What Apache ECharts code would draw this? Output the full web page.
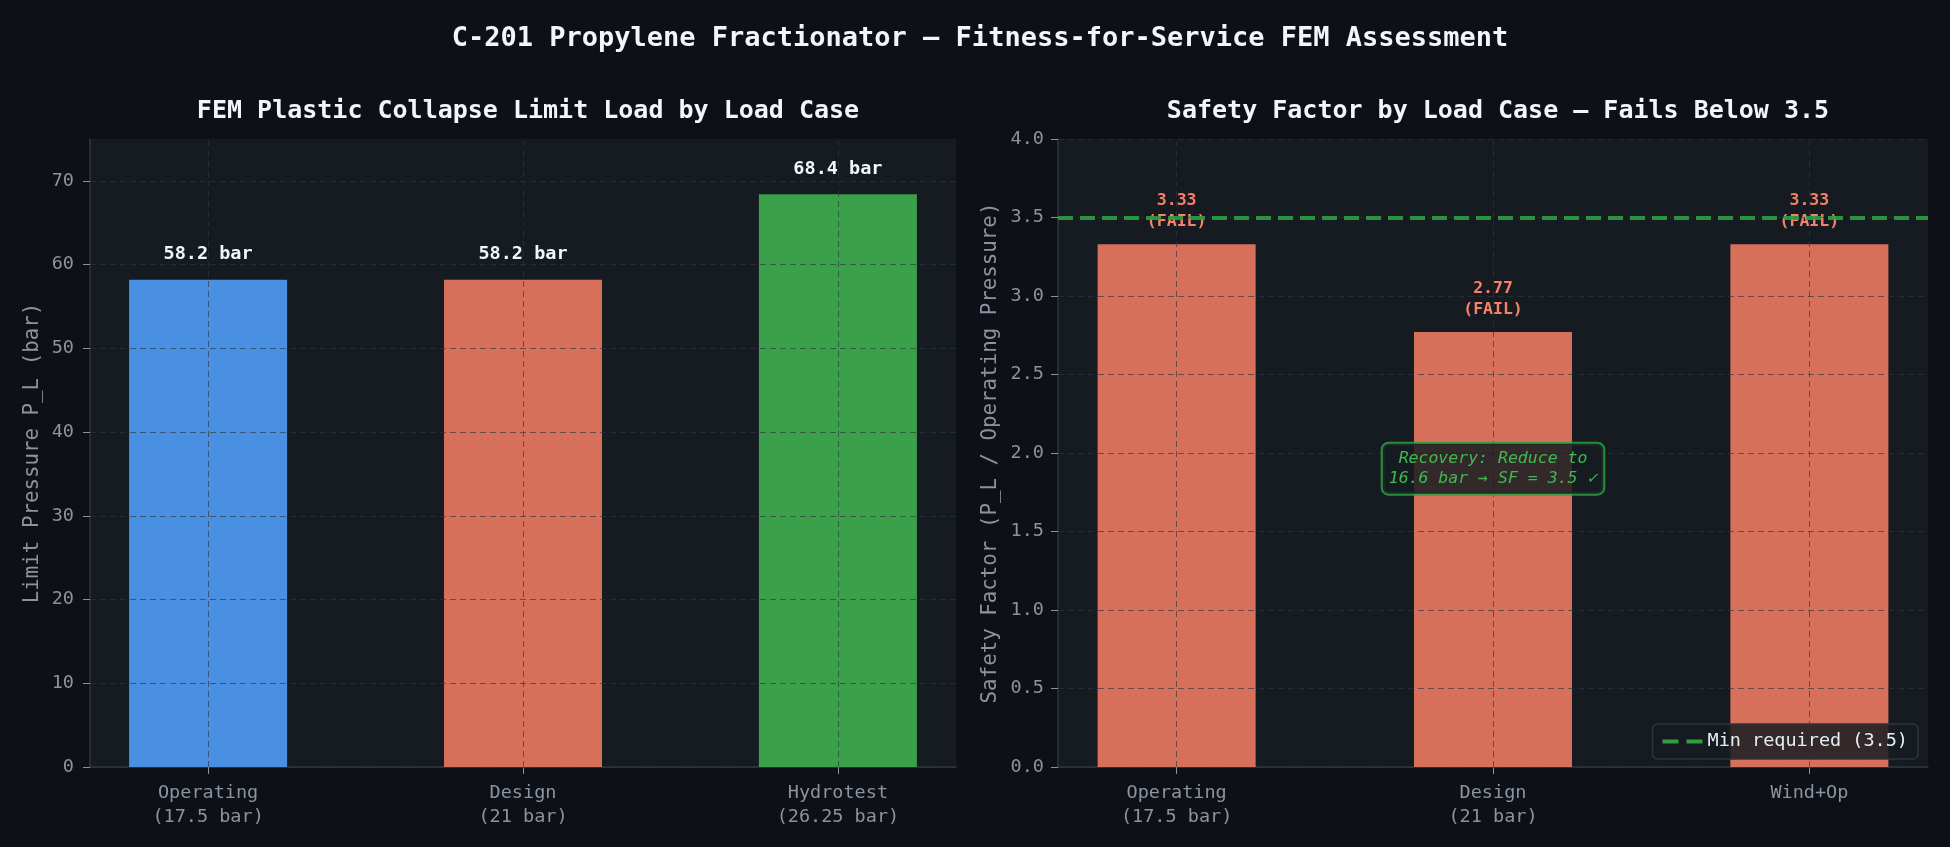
<!DOCTYPE html>
<html>
<head>
<meta charset="utf-8">
<script src="https://cdn.jsdelivr.net/npm/echarts@6/dist/echarts.min.js"></script>
<style>
  html, body { margin: 0; padding: 0; background: #0d1117; }
  #chart { width: 1950px; height: 847px; }
</style>
</head>
<body>
<div id="chart"></div>
<script>
// FFS FEM assessment - two bar panels
const limitCases = ['Operating\n(17.5 bar)', 'Design\n(21 bar)', 'Hydrotest\n(26.25 bar)'];
const sfCases = ['Operating\n(17.5 bar)', 'Design\n(21 bar)', 'Wind+Op'];
const limitLoad = [58.2, 58.2, 68.4];
const safetyFactor = [3.33, 2.77, 3.33];
const minSF = 3.5;
const limitTicks = [0, 10, 20, 30, 40, 50, 60, 70];
const sfTicks = [0, 0.5, 1.0, 1.5, 2.0, 2.5, 3.0, 3.5, 4.0];
const casePos = [0, 1, 2];
const recovery = { x: 1, y: 1.9, text: 'Recovery: Reduce to\n16.6 bar → SF = 3.5 ✓' };

const limitColors = ['#4a90e2', '#d6705a', '#3aa14a'];
const failColor = '#d6705a';
const mono = '"DejaVu Sans Mono", monospace';
const gridLine = { color: 'rgba(48,54,61,0.65)', type: [6, 4], width: 1 };

const chart = echarts.init(document.getElementById('chart'));

function xAxisFor(idx, labels) {
  return {
    type: 'value', gridIndex: idx, min: -0.375, max: 2.375,
    axisLine: { show: true, onZero: false, lineStyle: { color: '#30363d', width: 1.5 } },
    axisTick: { show: true, customValues: casePos, length: 7, lineStyle: { color: '#8b949e' } },
    axisLabel: {
      customValues: casePos, color: '#8b949e', fontFamily: mono, fontSize: 18.5,
      lineHeight: 24, margin: 14, formatter: v => labels[Math.round(v)]
    },
    splitLine: { show: false }
  };
}

// grid lines drawn as markLines so they sit over the bars
function gridMarks(ticks, yMax) {
  const horiz = ticks.map(v => [{ coord: [-0.375, v] }, { coord: [2.375, v] }]);
  const vert = casePos.map(v => [{ coord: [v, 0] }, { coord: [v, yMax] }]);
  return {
    silent: true, symbol: 'none', label: { show: false },
    lineStyle: gridLine,
    data: horiz.concat(vert)
  };
}

const option = {
  backgroundColor: '#0d1117',
  animation: false,
  title: [
    { text: 'C-201 Propylene Fractionator — Fitness-for-Service FEM Assessment',
      left: 975, top: 20, textAlign: 'center',
      textStyle: { color: '#f0f6fc', fontFamily: mono, fontSize: 27, fontWeight: 'bold' } },
    { text: 'FEM Plastic Collapse Limit Load by Load Case',
      left: 523, top: 94, textAlign: 'center',
      textStyle: { color: '#f0f6fc', fontFamily: mono, fontSize: 25, fontWeight: 'bold' } },
    { text: 'Safety Factor by Load Case — Fails Below 3.5',
      left: 1493, top: 94, textAlign: 'center',
      textStyle: { color: '#f0f6fc', fontFamily: mono, fontSize: 25, fontWeight: 'bold' } }
  ],
  legend: {
    data: [{ name: 'Min required (3.5)', icon: 'path://M0,0h16v4H0z M24,0h16v4H24z' }],
    right: 32, bottom: 88, itemWidth: 40, itemHeight: 4, itemGap: 10,
    padding: [8, 10], backgroundColor: 'rgba(22,27,34,0.85)',
    borderColor: '#30363d', borderWidth: 1.5, borderRadius: 5,
    textStyle: { color: '#e6edf3', fontFamily: mono, fontSize: 18.5 }
  },
  grid: [
    { left: 90, top: 139, width: 866, height: 628, show: true, backgroundColor: '#161b22', borderWidth: 0 },
    { left: 1058, top: 139, width: 870, height: 628, show: true, backgroundColor: '#161b22', borderWidth: 0 }
  ],
  xAxis: [xAxisFor(0, limitCases), xAxisFor(1, sfCases)],
  yAxis: [
    { type: 'value', gridIndex: 0, min: 0, max: 75,
      name: 'Limit Pressure P_L (bar)', nameLocation: 'middle', nameGap: 47,
      nameTextStyle: { color: '#8b949e', fontFamily: mono, fontSize: 20.8 },
      axisLine: { show: true, onZero: false, lineStyle: { color: '#30363d', width: 1.5 } },
      axisTick: { show: true, customValues: limitTicks, length: 7, lineStyle: { color: '#8b949e' } },
      axisLabel: { customValues: limitTicks, color: '#8b949e', fontFamily: mono, fontSize: 18.5, margin: 16 },
      splitLine: { show: false } },
    { type: 'value', gridIndex: 1, min: 0, max: 4,
      name: 'Safety Factor (P_L / Operating Pressure)', nameLocation: 'middle', nameGap: 57,
      nameTextStyle: { color: '#8b949e', fontFamily: mono, fontSize: 20.8 },
      axisLine: { show: true, onZero: false, lineStyle: { color: '#30363d', width: 1.5 } },
      axisTick: { show: true, customValues: sfTicks, length: 7, lineStyle: { color: '#8b949e' } },
      axisLabel: { customValues: sfTicks, color: '#8b949e', fontFamily: mono, fontSize: 18.5, margin: 14,
        formatter: v => v.toFixed(1) },
      splitLine: { show: false } }
  ],
  series: [
    {
      type: 'bar', xAxisIndex: 0, yAxisIndex: 0, barWidth: 158,
      data: casePos.map((x, i) => ({ value: [x, limitLoad[i]], itemStyle: { color: limitColors[i] } })),
      label: {
        show: true, position: 'top', distance: 16, color: '#f0f6fc',
        fontFamily: mono, fontSize: 18.5, fontWeight: 'bold',
        formatter: p => p.value[1].toFixed(1) + ' bar'
      },
      markLine: gridMarks(limitTicks, 75)
    },
    {
      type: 'bar', xAxisIndex: 1, yAxisIndex: 1, barWidth: 158,
      data: casePos.map((x, i) => [x, safetyFactor[i]]),
      itemStyle: { color: failColor },
      label: {
        show: true, position: 'top', distance: 12, color: '#f78166',
        fontFamily: mono, fontSize: 16.5, fontWeight: 'bold', lineHeight: 21,
        formatter: p => p.value[1].toFixed(2) + '\n(FAIL)'
      },
      markLine: gridMarks(sfTicks, 4),
      markPoint: {
        silent: true, symbol: 'circle', symbolSize: 0,
        data: [{ coord: [recovery.x, recovery.y] }],
        label: {
          show: true, position: 'inside', formatter: recovery.text,
          color: '#3fb950', fontFamily: mono, fontSize: 16.5, fontStyle: 'italic', lineHeight: 20,
          backgroundColor: 'rgba(22,27,34,0.85)', borderColor: 'rgba(46,160,67,0.85)', borderWidth: 2,
          borderRadius: 6, padding: [5, 6]
        }
      }
    },
    {
      name: 'Min required (3.5)', type: 'line', xAxisIndex: 1, yAxisIndex: 1,
      data: [], color: '#2ea043',
      markLine: {
        silent: true, symbol: 'none', label: { show: false },
        lineStyle: { color: '#2ea043', width: 4, type: [15, 7], opacity: 0.9 },
        data: [{ yAxis: minSF }]
      }
    }
  ]
};

chart.setOption(option);
</script>
</body>
</html>
